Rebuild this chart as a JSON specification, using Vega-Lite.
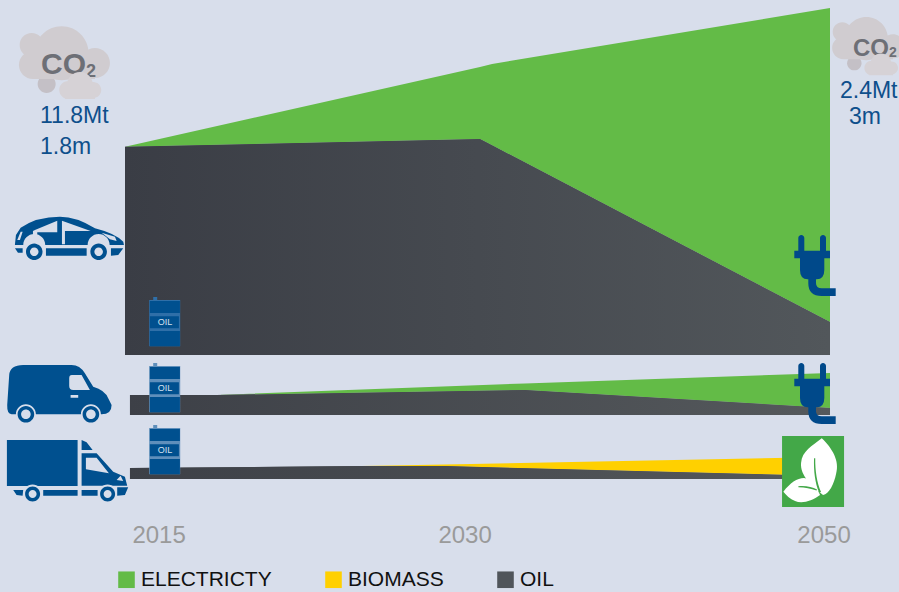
{"$schema":"https://vega.github.io/schema/vega-lite/v6.json","padding":0,"background":"#d8deeb","bounds":"flush","spacing":0,"resolve":{"scale":{"color":"shared"}},"config":{"view":{"stroke":null},"axis":{"disable":true},"text":{"font":"Liberation Sans"}},"vconcat":[
{"width":899,"height":355,"data":{"values":[
{"year":2015,"fuel":"OIL","value":1.8},{"year":2030,"fuel":"OIL","value":1.867},{"year":2030.69,"fuel":"OIL","value":1.813},{"year":2050,"fuel":"OIL","value":0.285},
{"year":2015,"fuel":"ELECTRICTY","value":0},{"year":2030,"fuel":"ELECTRICTY","value":0.623},{"year":2030.69,"fuel":"ELECTRICTY","value":0.703},{"year":2050,"fuel":"ELECTRICTY","value":2.715}]},
"layer":[
{"mark":{"type":"area"},"encoding":{"x":{"field":"year","type":"quantitative","scale":{"domain":[2015,2030,2050],"range":[125,480,830],"nice":false,"zero":false}},"y":{"field":"value","type":"quantitative","stack":"zero","scale":{"domain":[0,3.069],"nice":false}},"color":{"field":"fuel","type":"nominal","scale":{"domain":["ELECTRICTY","BIOMASS","OIL"],"range":["#63bb47","#ffd000","#50555a"]},"legend":{"orient":"none","legendX":116,"legendY":569,"direction":"horizontal","columns":3,"title":null,"symbolType":"square","symbolSize":275,"symbolStrokeWidth":0,"symbolOpacity":1,"labelFont":"Liberation Sans","labelFontSize":21,"labelColor":"#111111","labelOffset":4,"labelLimit":300,"columnPadding":51,"symbolOffset":0}}}},
{"transform":[{"filter":"datum.fuel === 'OIL'"}],"mark":{"type":"area","fill":{"gradient":"linear","x1":0,"x2":1,"y1":0,"y2":0,"stops":[{"offset":0,"color":"#3a3d45"},{"offset":1,"color":"#52575b"}]}},"encoding":{"x":{"field":"year","type":"quantitative"},"y":{"field":"value","type":"quantitative","stack":null}}},
{"data":{"values":[{}]},"mark":{"type":"point","filled":true,"opacity":1,"size":4,"color":"#00508f","shape":"M0,29.3L1,20L5.7,12.7Q21.7,1.7 45,1.7Q61.7,1.7 80,13.3Q100,18.3 108.3,26.7L109,30L94.7,30A11,11 0 0,0 72.7,30L30.3,30A11,11 0 0,0 8.3,30L0,30ZM31,33.3H71.7V40.7H31ZM0,33.3H7.7V37.7H3ZM96,33.3H108.3L103.3,40L96,40.7ZM11,36.7a8.3,8.3 0 1,0 16.6,0a8.3,8.3 0 1,0 -16.6,0ZM15,36.7a4.3,4.3 0 1,1 8.6,0a4.3,4.3 0 1,1 -8.6,0ZM75.4,36.7a8.3,8.3 0 1,0 16.6,0a8.3,8.3 0 1,0 -16.6,0ZM79.4,36.7a4.3,4.3 0 1,1 8.6,0a4.3,4.3 0 1,1 -8.6,0Z"},"encoding":{"x":{"datum":2010.35,"type":"quantitative"},"y":{"datum":1.21,"type":"quantitative"}}},
{"data":{"values":[{}]},"mark":{"type":"point","filled":true,"opacity":1,"size":4,"color":"#d8deeb","shape":"M20,15L42.3,5.7V17.3H22.3V24L26,29.3H22L18,24V16ZM47,5.7L75.7,16H50V29.3H47ZM86.7,17.7L100,21.7L101.7,26L95,24.3ZM5.7,16.7H7.7L5,25H2.3Z"},"encoding":{"x":{"datum":2010.35,"type":"quantitative"},"y":{"datum":1.21,"type":"quantitative"}}},
{"data":{"values":[{}]},"mark":{"type":"point","filled":true,"opacity":1,"size":4,"color":"#2f6fa8","shape":"M4.3,-1H8.3V2H31.3V48.3H0.3V2H4.3Z"},"encoding":{"x":{"datum":2016.01,"type":"quantitative"},"y":{"datum":0.493,"type":"quantitative"}}},
{"data":{"values":[{}]},"mark":{"type":"point","filled":true,"opacity":1,"size":4,"color":"#00508f","shape":"M1,3H31V15H1ZM1,18.3H30V30.3H1ZM1,33H31V48.3H1Z"},"encoding":{"x":{"datum":2016.01,"type":"quantitative"},"y":{"datum":0.493,"type":"quantitative"}}},
{"data":{"values":[{}]},"mark":{"type":"text","text":"OIL","fontSize":9,"color":"#d5e2ee","align":"center","baseline":"middle"},"encoding":{"x":{"datum":2016.69,"type":"quantitative"},"y":{"datum":0.285,"type":"quantitative"}}},
{"data":{"values":[{}]},"mark":{"type":"point","filled":true,"opacity":1,"size":4,"color":"#00498a","shape":"M3.3,4a3,3 0 0,1 6,0V16.7H3.3ZM25,4a3,3 0 0,1 6,0V16.7H25ZM-0.7,16.7H35V24.3H-0.7ZM5,24.3H29.3V36Q29.3,45.3 21.7,45.3H21V49.3Q21,54.3 26.7,54.3H40.7V62H26.7Q13.3,62 13.3,49.3V45.3H12.7Q5,45.3 5,36Z"},"encoding":{"x":{"datum":2048,"type":"quantitative"},"y":{"datum":1.046,"type":"quantitative"}}},
{"data":{"values":[{}]},"mark":{"type":"point","filled":true,"opacity":1,"size":4,"color":"#c4c0c6","shape":"M22.7,59a9,9 0 1,0 18,0a9,9 0 1,0 -18,0Z"},"encoding":{"x":{"datum":2010.35,"type":"quantitative"},"y":{"datum":2.853,"type":"quantitative"}}},
{"data":{"values":[{}]},"mark":{"type":"point","filled":true,"opacity":1,"size":4,"color":"#d0ccd0","shape":"M19.7,28.3a27,27 0 1,0 54,0a27,27 0 1,0 -54,0ZM4.7,20a12,12 0 1,0 24,0a12,12 0 1,0 -24,0ZM4,40a14,14 0 1,0 28,0a14,14 0 1,0 -28,0ZM65,38a15,15 0 1,0 30,0a15,15 0 1,0 -30,0ZM18,30V54H80V30Z"},"encoding":{"x":{"datum":2010.35,"type":"quantitative"},"y":{"datum":2.853,"type":"quantitative"}}},
{"data":{"values":[{}]},"mark":{"type":"text","text":"CO","fontWeight":"bold","fontSize":30,"color":"#6d6f76","align":"left","baseline":"alphabetic"},"encoding":{"x":{"datum":2011.45,"type":"quantitative"},"y":{"datum":2.429,"type":"quantitative"}}},
{"data":{"values":[{}]},"mark":{"type":"text","text":"2","fontWeight":"bold","fontSize":18,"color":"#6d6f76","align":"left","baseline":"alphabetic"},"encoding":{"x":{"datum":2013.35,"type":"quantitative"},"y":{"datum":2.403,"type":"quantitative"}}},
{"data":{"values":[{}]},"mark":{"type":"point","filled":true,"opacity":1,"size":4,"color":"#d6d2d6","shape":"M52,60a13,13 0 1,0 26,0a13,13 0 1,0 -26,0ZM44.3,65a9,9 0 1,0 18,0a9,9 0 1,0 -18,0ZM70.3,65a8,8 0 1,0 16,0a8,8 0 1,0 -16,0ZM50,58V74H80V58Z"},"encoding":{"x":{"datum":2010.35,"type":"quantitative"},"y":{"datum":2.853,"type":"quantitative"}}},
{"data":{"values":[{}]},"mark":{"type":"point","filled":true,"opacity":1,"size":2.56,"clip":true,"color":"#c4c0c6","shape":"M22.7,59a9,9 0 1,0 18,0a9,9 0 1,0 -18,0Z"},"encoding":{"x":{"datum":2049.94,"type":"quantitative"},"y":{"datum":2.931,"type":"quantitative"}}},
{"data":{"values":[{}]},"mark":{"type":"point","filled":true,"opacity":1,"size":2.56,"clip":true,"color":"#d0ccd0","shape":"M19.7,28.3a27,27 0 1,0 54,0a27,27 0 1,0 -54,0ZM4.7,20a12,12 0 1,0 24,0a12,12 0 1,0 -24,0ZM4,40a14,14 0 1,0 28,0a14,14 0 1,0 -28,0ZM65,38a15,15 0 1,0 30,0a15,15 0 1,0 -30,0ZM18,30V54H80V30Z"},"encoding":{"x":{"datum":2049.94,"type":"quantitative"},"y":{"datum":2.931,"type":"quantitative"}}},
{"data":{"values":[{}]},"mark":{"type":"text","text":"CO","fontWeight":"bold","fontSize":24,"color":"#6d6f76","align":"left","baseline":"alphabetic"},"encoding":{"x":{"datum":2051.31,"type":"quantitative"},"y":{"datum":2.585,"type":"quantitative"}}},
{"data":{"values":[{}]},"mark":{"type":"text","text":"2","fontWeight":"bold","fontSize":14,"color":"#6d6f76","align":"left","baseline":"alphabetic"},"encoding":{"x":{"datum":2053.37,"type":"quantitative"},"y":{"datum":2.576,"type":"quantitative"}}},
{"data":{"values":[{}]},"mark":{"type":"point","filled":true,"opacity":1,"size":2.56,"clip":true,"color":"#d6d2d6","shape":"M52,60a13,13 0 1,0 26,0a13,13 0 1,0 -26,0ZM44.3,65a9,9 0 1,0 18,0a9,9 0 1,0 -18,0ZM70.3,65a8,8 0 1,0 16,0a8,8 0 1,0 -16,0ZM50,58V74H80V58Z"},"encoding":{"x":{"datum":2049.94,"type":"quantitative"},"y":{"datum":2.931,"type":"quantitative"}}},
{"data":{"values":[{"label":"11.8Mt","year":2011.41,"value":2.006},{"label":"1.8m","year":2011.41,"value":1.738},{"label":"2.4Mt","year":2050.57,"value":2.222},{"label":"3m","year":2051.09,"value":1.997}]},"mark":{"type":"text","fontSize":23,"color":"#0e4f8b","align":"left","baseline":"alphabetic"},"encoding":{"x":{"field":"year","type":"quantitative"},"y":{"field":"value","type":"quantitative"},"text":{"field":"label"}}}
]},
{"width":899,"height":60,"data":{"values":[
{"year":2015.21,"fuel":"OIL","value":0.2},{"year":2018.89,"fuel":"OIL","value":0.2},{"year":2032.57,"fuel":"OIL","value":0.25},{"year":2050,"fuel":"OIL","value":0.07},
{"year":2015.21,"fuel":"ELECTRICTY","value":0},{"year":2018.89,"fuel":"ELECTRICTY","value":0},{"year":2032.57,"fuel":"ELECTRICTY","value":0.066},{"year":2050,"fuel":"ELECTRICTY","value":0.35}]},
"layer":[
{"mark":{"type":"area"},"encoding":{"x":{"field":"year","type":"quantitative","scale":{"domain":[2015,2030,2050],"range":[125,480,830],"nice":false,"zero":false}},"y":{"field":"value","type":"quantitative","stack":"zero","scale":{"domain":[0,0.6],"nice":false}},"color":{"field":"fuel","type":"nominal","scale":{"domain":["ELECTRICTY","BIOMASS","OIL"],"range":["#63bb47","#ffd000","#50555a"]}}}},
{"transform":[{"filter":"datum.fuel === 'OIL'"}],"mark":{"type":"area","fill":{"gradient":"linear","x1":0,"x2":1,"y1":0,"y2":0,"stops":[{"offset":0,"color":"#3d4047"},{"offset":1,"color":"#55595c"}]}},"encoding":{"x":{"field":"year","type":"quantitative"},"y":{"field":"value","type":"quantitative","stack":null}}},
{"data":{"values":[{}]},"mark":{"type":"point","filled":true,"opacity":1,"size":4,"color":"#00508f","shape":"M0.3,41L2.3,11Q3,1 16.3,1L64.7,1Q73,1 78,9.3L86.3,22.7Q98,26 101.3,34.3L104.7,41Q104.7,50.3 94.7,50.3H94A10,10 0 0,0 74,50.3H29A10,10 0 0,0 9,50.3H4.7Q0,50 0.3,41ZM10.7,50.3a8.3,8.3 0 1,0 16.6,0a8.3,8.3 0 1,0 -16.6,0ZM14.2,50.3a4.8,4.8 0 1,1 9.6,0a4.8,4.8 0 1,1 -9.6,0ZM75.7,50.3a8.3,8.3 0 1,0 16.6,0a8.3,8.3 0 1,0 -16.6,0ZM79.2,50.3a4.8,4.8 0 1,1 9.6,0a4.8,4.8 0 1,1 -9.6,0Z"},"encoding":{"x":{"datum":2010.01,"type":"quantitative"},"y":{"datum":0.51,"type":"quantitative"}}},
{"data":{"values":[{}]},"mark":{"type":"point","filled":true,"opacity":1,"size":4,"color":"#d8deeb","shape":"M62.3,14.3Q62.3,11 65,11H74.7L83,26H66.3Q62.3,26 62.3,22ZM63.7,31H71.3V33.7H63.7Z"},"encoding":{"x":{"datum":2010.01,"type":"quantitative"},"y":{"datum":0.51,"type":"quantitative"}}},
{"data":{"values":[{}]},"mark":{"type":"point","filled":true,"opacity":1,"size":4,"color":"#5f8fbb","shape":"M4.3,-1H8.3V2H31.3V48.3H0.3V2H4.3Z"},"encoding":{"x":{"datum":2016.01,"type":"quantitative"},"y":{"datum":0.51,"type":"quantitative"}}},
{"data":{"values":[{}]},"mark":{"type":"point","filled":true,"opacity":1,"size":4,"color":"#00508f","shape":"M1,3H31V15H1ZM1,18.3H30V30.3H1ZM1,33H31V48.3H1Z"},"encoding":{"x":{"datum":2016.01,"type":"quantitative"},"y":{"datum":0.51,"type":"quantitative"}}},
{"data":{"values":[{}]},"mark":{"type":"text","text":"OIL","fontSize":9,"color":"#d5e2ee","align":"center","baseline":"middle"},"encoding":{"x":{"datum":2016.69,"type":"quantitative"},"y":{"datum":0.27,"type":"quantitative"}}},
{"data":{"values":[{}]},"mark":{"type":"point","filled":true,"opacity":1,"size":4,"color":"#00498a","shape":"M3.3,4a3,3 0 0,1 6,0V16.7H3.3ZM25,4a3,3 0 0,1 6,0V16.7H25ZM-0.7,16.7H35V24.3H-0.7ZM5,24.3H29.3V36Q29.3,45.3 21.7,45.3H21V49.3Q21,54.3 26.7,54.3H40.7V62H26.7Q13.3,62 13.3,49.3V45.3H12.7Q5,45.3 5,36Z"},"encoding":{"x":{"datum":2048,"type":"quantitative"},"y":{"datum":0.53,"type":"quantitative"}}}
]},
{"width":899,"height":64,"data":{"values":[
{"year":2015.21,"fuel":"OIL","value":0.11},{"year":2025.01,"fuel":"OIL","value":0.13},{"year":2028.52,"fuel":"OIL","value":0.13},{"year":2050,"fuel":"OIL","value":0.03},
{"year":2015.21,"fuel":"BIOMASS","value":0},{"year":2025.01,"fuel":"BIOMASS","value":0},{"year":2028.52,"fuel":"BIOMASS","value":0.015},{"year":2050,"fuel":"BIOMASS","value":0.19}]},
"layer":[
{"mark":{"type":"area"},"encoding":{"x":{"field":"year","type":"quantitative","scale":{"domain":[2015,2030,2050],"range":[125,480,830],"nice":false,"zero":false}},"y":{"field":"value","type":"quantitative","stack":"zero","scale":{"domain":[0,0.64],"nice":false}},"color":{"field":"fuel","type":"nominal","scale":{"domain":["ELECTRICTY","BIOMASS","OIL"],"range":["#63bb47","#ffd000","#50555a"]}}}},
{"transform":[{"filter":"datum.fuel === 'OIL'"}],"mark":{"type":"area","fill":{"gradient":"linear","x1":0,"x2":1,"y1":0,"y2":0,"stops":[{"offset":0,"color":"#3d4047"},{"offset":1,"color":"#55595c"}]}},"encoding":{"x":{"field":"year","type":"quantitative"},"y":{"field":"value","type":"quantitative","stack":null}}},
{"data":{"values":[{}]},"mark":{"type":"point","filled":true,"opacity":1,"size":4,"color":"#00508f","shape":"M0,0H70.7V46H0ZM74.7,0L79.7,2.3L85.7,10H74.7ZM74.7,13.3H89.7L106.3,31.7L118,36.7L120.3,45.7H74.7Z"},"encoding":{"x":{"datum":2010.01,"type":"quantitative"},"y":{"datum":0.39,"type":"quantitative"}}},
{"data":{"values":[{}]},"mark":{"type":"point","filled":true,"opacity":1,"size":4,"color":"#d8deeb","shape":"M79,17.7H89.7L102,33.3L79,29.3ZM109.7,40L113.7,35.7L116.3,41ZM16.2,54a9.5,9.5 0 1,0 19,0a9.5,9.5 0 1,0 -19,0ZM91.2,54a9.5,9.5 0 1,0 19,0a9.5,9.5 0 1,0 -19,0Z"},"encoding":{"x":{"datum":2010.01,"type":"quantitative"},"y":{"datum":0.39,"type":"quantitative"}}},
{"data":{"values":[{}]},"mark":{"type":"point","filled":true,"opacity":1,"size":4,"color":"#00508f","shape":"M6.3,50H16.3L15.7,55.7L9.7,55ZM36.3,50H70.7V55.7H36.3ZM74.7,50H90.7V55.7H74.7ZM110.3,47.3H121.3L118,55L110.3,55.7ZM18.2,54a7.5,7.5 0 1,0 15,0a7.5,7.5 0 1,0 -15,0ZM21.7,54a4,4 0 1,1 8,0a4,4 0 1,1 -8,0ZM93.2,54a7.5,7.5 0 1,0 15,0a7.5,7.5 0 1,0 -15,0ZM96.7,54a4,4 0 1,1 8,0a4,4 0 1,1 -8,0Z"},"encoding":{"x":{"datum":2010.01,"type":"quantitative"},"y":{"datum":0.39,"type":"quantitative"}}},
{"data":{"values":[{}]},"mark":{"type":"point","filled":true,"opacity":1,"size":4,"color":"#5f8fbb","shape":"M4.3,-1H8.3V2H31.3V48.3H0.3V2H4.3Z"},"encoding":{"x":{"datum":2016.01,"type":"quantitative"},"y":{"datum":0.53,"type":"quantitative"}}},
{"data":{"values":[{}]},"mark":{"type":"point","filled":true,"opacity":1,"size":4,"color":"#00508f","shape":"M1,3H31V15H1ZM1,18.3H30V30.3H1ZM1,33H31V48.3H1Z"},"encoding":{"x":{"datum":2016.01,"type":"quantitative"},"y":{"datum":0.53,"type":"quantitative"}}},
{"data":{"values":[{}]},"mark":{"type":"text","text":"OIL","fontSize":9,"color":"#d5e2ee","align":"center","baseline":"middle"},"encoding":{"x":{"datum":2016.69,"type":"quantitative"},"y":{"datum":0.29,"type":"quantitative"}}},
{"data":{"values":[{}]},"mark":{"type":"point","filled":true,"opacity":1,"size":4,"color":"#43a848","shape":"M0,0H62V71H0Z"},"encoding":{"x":{"datum":2047.26,"type":"quantitative"},"y":{"datum":0.43,"type":"quantitative"}}},
{"data":{"values":[{}]},"mark":{"type":"point","filled":true,"opacity":1,"size":4,"color":"#ffffff","shape":"M39.7,2.3C50,12 58,25 54,38C52,48 47,58 41,59C30,50 18,40 19,27C20,15 30,10 39.7,2.3ZM1.3,55.7C8,47 15,42 22,42C30,43 35,52 38,59C30,65 20,68 13,65C8,63 4,59 1.3,55.7Z"},"encoding":{"x":{"datum":2047.26,"type":"quantitative"},"y":{"datum":0.43,"type":"quantitative"}}},
{"data":{"values":[{}]},"mark":{"type":"point","filled":true,"opacity":1,"size":4,"color":"#43a848","shape":"M32,22.3L33.2,22.3C33,35 35,47 39,56L37,56.5C33,47 31.5,35 32,22.3ZM16.3,50.2C24,49.5 30,51 35,53.5L34.5,54.5C29,52.5 23,51.5 16.3,51.2Z"},"encoding":{"x":{"datum":2047.26,"type":"quantitative"},"y":{"datum":0.43,"type":"quantitative"}}}
]},
{"width":899,"height":113,"data":{"values":[{"label":"2015","year":2016.44,"level":49},{"label":"2030","year":2029.37,"level":49},{"label":"2050","year":2049.66,"level":49}]},
"mark":{"type":"text","fontSize":24,"color":"#9a9a9a","baseline":"alphabetic","align":"center"},
"encoding":{"x":{"field":"year","type":"quantitative","scale":{"domain":[2015,2030,2050],"range":[125,480,830],"nice":false,"zero":false}},"y":{"field":"level","type":"quantitative","scale":{"domain":[0,113],"nice":false}},"text":{"field":"label"}}}
]}
